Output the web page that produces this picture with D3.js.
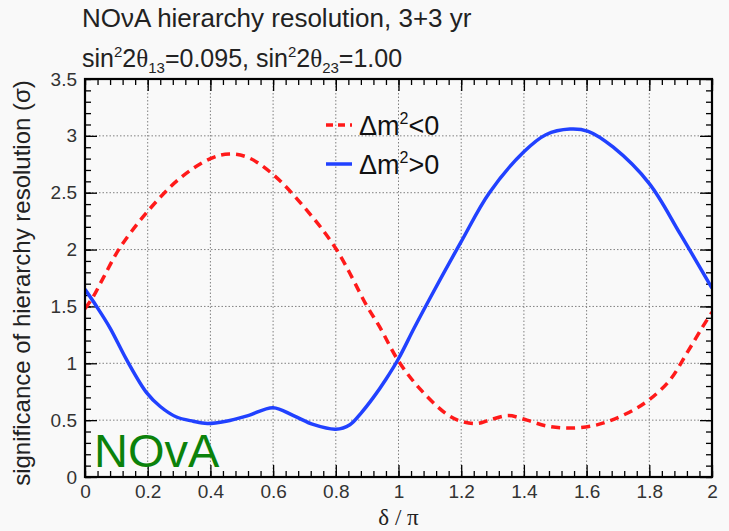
<!DOCTYPE html>
<html>
<head>
<meta charset="utf-8">
<script src="https://cdn.jsdelivr.net/npm/d3@7"></script>
<style>
  body { margin: 0; background: #f9f9f9; }
  svg { display: block; }
</style>
</head>
<body>
<svg id="chart" width="729" height="531"></svg>
<script>
// Hierarchy-resolution significance vs delta_CP / pi
const deltaInverted = [0, 0.025, 0.06, 0.11, 0.195, 0.3, 0.4, 0.46, 0.52, 0.6, 0.7, 0.8, 0.9, 0.94, 1.0, 1.07, 1.155, 1.2, 1.25, 1.29, 1.35, 1.41, 1.47, 1.54, 1.62, 1.68, 1.75, 1.8, 1.865, 1.92, 1.97, 2.0];
const sigmaInverted = [1.48, 1.58, 1.76, 2.01, 2.32, 2.62, 2.80, 2.84, 2.81, 2.66, 2.37, 2.01, 1.50, 1.32, 1.02, 0.77, 0.55, 0.49, 0.47, 0.50, 0.54, 0.50, 0.45, 0.43, 0.45, 0.50, 0.59, 0.68, 0.85, 1.09, 1.32, 1.45];

const deltaNormal = [0, 0.037, 0.08, 0.133, 0.197, 0.24, 0.29, 0.345, 0.39, 0.45, 0.52, 0.6, 0.665, 0.73, 0.8, 0.845, 0.88, 0.92, 0.96, 1.0, 1.05, 1.1, 1.2, 1.29, 1.4, 1.47, 1.547, 1.605, 1.685, 1.8, 1.898, 2.0];
const sigmaNormal = [1.65, 1.50, 1.31, 1.03, 0.74, 0.62, 0.53, 0.49, 0.47, 0.49, 0.54, 0.61, 0.54, 0.46, 0.42, 0.46, 0.56, 0.70, 0.86, 1.04, 1.31, 1.57, 2.07, 2.50, 2.86, 3.01, 3.06, 3.04, 2.90, 2.58, 2.14, 1.66];

const xTicks = [0, 0.2, 0.4, 0.6, 0.8, 1, 1.2, 1.4, 1.6, 1.8, 2];
const yTicks = [0, 0.5, 1, 1.5, 2, 2.5, 3, 3.5];

const svg = d3.select("#chart");
const W = 729, H = 531;
const plotL = 85, plotR = 712, plotT = 79, plotB = 477;
const fontSans = "'Liberation Sans', Arial, Helvetica, sans-serif";
const fontSerif = "'Liberation Serif', 'Times New Roman', serif";

svg.append("rect").attr("width", W).attr("height", H).attr("fill", "#f9f9f9");

const x = d3.scaleLinear().domain([0, 2]).range([plotL, plotR]);
const y = d3.scaleLinear().domain([0, 3.5]).range([plotB, plotT]);

const minorX = d3.range(0, 2.0001, 0.04);
const minorY = d3.range(0, 3.5001, 0.1);

// grid
const grid = svg.append("g").attr("stroke", "#808080").attr("stroke-width", 1).attr("stroke-dasharray", "1.5,2");
grid.selectAll(".gx").data(xTicks.slice(1, -1)).join("line")
  .attr("x1", d => x(d)).attr("x2", d => x(d)).attr("y1", plotT).attr("y2", plotB);
grid.selectAll(".gy").data(yTicks.slice(1, -1)).join("line")
  .attr("x1", plotL).attr("x2", plotR).attr("y1", d => y(d)).attr("y2", d => y(d));

// ticks on all four sides, pointing inward
function tickAxis(gen, transform, values, size) {
  const g = svg.append("g").attr("transform", transform)
    .call(gen.tickValues(values).tickSize(-size).tickFormat(""));
  g.select(".domain").remove();
  g.selectAll(".tick line").attr("stroke", "#000").attr("stroke-width", 1.3);
  return g;
}
tickAxis(d3.axisBottom(x), `translate(0,${plotB})`, minorX, 6);
tickAxis(d3.axisBottom(x), `translate(0,${plotB})`, xTicks, 12);
tickAxis(d3.axisTop(x), `translate(0,${plotT})`, minorX, 6);
tickAxis(d3.axisTop(x), `translate(0,${plotT})`, xTicks, 12);
tickAxis(d3.axisLeft(y), `translate(${plotL},0)`, minorY, 6);
tickAxis(d3.axisLeft(y), `translate(${plotL},0)`, yTicks, 12);
tickAxis(d3.axisRight(y), `translate(${plotR},0)`, minorY, 6);
tickAxis(d3.axisRight(y), `translate(${plotR},0)`, yTicks, 12);

// tick labels
const fmt = d3.format("~g");
const xLab = svg.append("g").attr("transform", `translate(0,${plotB})`)
  .call(d3.axisBottom(x).tickValues(xTicks).tickSize(0).tickPadding(8).tickFormat(fmt));
xLab.select(".domain").remove();
xLab.selectAll("text").attr("font-family", fontSans).attr("font-size", 19).attr("fill", "#333");

const yLab = svg.append("g").attr("transform", `translate(${plotL},0)`)
  .call(d3.axisLeft(y).tickValues(yTicks).tickSize(0).tickPadding(8).tickFormat(fmt));
yLab.select(".domain").remove();
yLab.selectAll("text").attr("font-family", fontSans).attr("font-size", 19).attr("fill", "#333");

// curves
svg.append("clipPath").attr("id", "plotArea")
  .append("rect").attr("x", plotL).attr("y", plotT).attr("width", plotR - plotL).attr("height", plotB - plotT);

const line = d3.line().x(d => x(d[0])).y(d => y(d[1])).curve(d3.curveCatmullRom.alpha(0.5));
const inverted = deltaInverted.map((d, i) => [d, sigmaInverted[i]]);
const normal = deltaNormal.map((d, i) => [d, sigmaNormal[i]]);

const curves = svg.append("g").attr("clip-path", "url(#plotArea)");
curves.append("path").datum(inverted).attr("d", line)
  .attr("fill", "none").attr("stroke", "#ff1a1a").attr("stroke-width", 3.5).attr("stroke-dasharray", "9,6");
curves.append("path").datum(normal).attr("d", line)
  .attr("fill", "none").attr("stroke", "#2141ff").attr("stroke-width", 3.5);

// frame
svg.append("rect").attr("x", plotL).attr("y", plotT).attr("width", plotR - plotL).attr("height", plotB - plotT)
  .attr("fill", "none").attr("stroke", "#000").attr("stroke-width", 2.2);

// experiment label
svg.append("text").attr("x", 94).attr("y", 467)
  .attr("font-family", fontSans).attr("font-size", 47).attr("fill", "#0b820b").text("NOvA");

// legend
const legend = [
  { label: "<0", color: "#ff1a1a", dash: "7,5", yPos: 125 },
  { label: ">0", color: "#2141ff", dash: null, yPos: 164 }
];
legend.forEach(l => {
  svg.append("line").attr("x1", 326).attr("x2", 352).attr("y1", l.yPos).attr("y2", l.yPos)
    .attr("stroke", l.color).attr("stroke-width", 3.5).attr("stroke-dasharray", l.dash);
  const t = svg.append("text").attr("x", 359).attr("y", l.yPos + 10)
    .attr("font-family", fontSans).attr("font-size", 27).attr("fill", "#111");
  t.append("tspan").text("Δm");
  t.append("tspan").attr("font-size", 16).attr("dy", -11).text("2");
  t.append("tspan").attr("dy", 11).text(l.label);
});

// titles
svg.append("text").attr("x", 82).attr("y", 27)
  .attr("font-family", fontSans).attr("font-size", 26).attr("fill", "#222")
  .text("NOνA hierarchy resolution, 3+3 yr");

const sub = svg.append("text").attr("x", 82).attr("y", 67)
  .attr("font-family", fontSans).attr("font-size", 25).attr("fill", "#222");
sub.append("tspan").text("sin");
sub.append("tspan").attr("font-size", 15).attr("dy", -10).text("2");
sub.append("tspan").attr("dy", 10).text("2");
sub.append("tspan").attr("font-family", fontSerif).text("θ");
sub.append("tspan").attr("font-size", 15).attr("dy", 6).text("13");
sub.append("tspan").attr("dy", -6).text("=0.095, sin");
sub.append("tspan").attr("font-size", 15).attr("dy", -10).text("2");
sub.append("tspan").attr("dy", 10).text("2");
sub.append("tspan").attr("font-family", fontSerif).text("θ");
sub.append("tspan").attr("font-size", 15).attr("dy", 6).text("23");
sub.append("tspan").attr("dy", -6).text("=1.00");

// axis titles
svg.append("text").attr("x", (plotL + plotR) / 2).attr("y", 525).attr("text-anchor", "middle")
  .attr("font-family", fontSerif).attr("font-size", 23).attr("fill", "#222").text("δ / π");

svg.append("text").attr("transform", `translate(30,${(plotT + plotB) / 2 + 5}) rotate(-90)`)
  .attr("text-anchor", "middle")
  .attr("font-family", fontSans).attr("font-size", 24).attr("fill", "#222")
  .text("significance of hierarchy resolution (σ)");
</script>
</body>
</html>
